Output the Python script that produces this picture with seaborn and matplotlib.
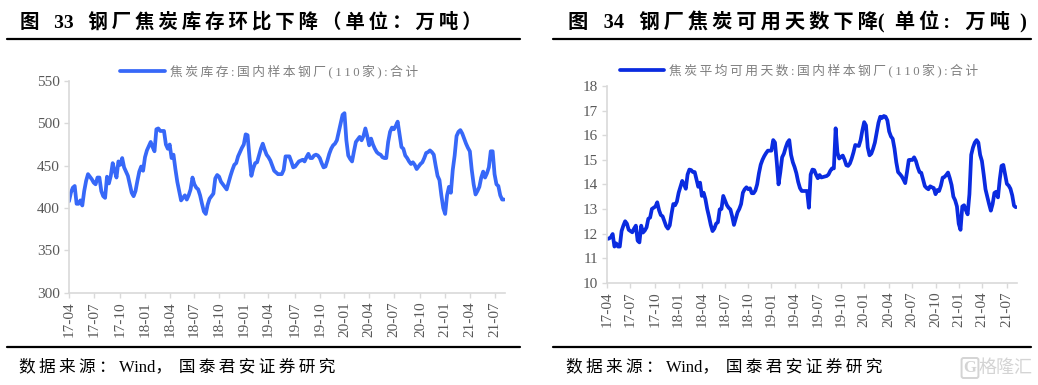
import numpy as np
import pandas as pd
import seaborn as sns
import matplotlib.pyplot as plt
from matplotlib.lines import Line2D

sns.set_theme(style='white')
fonts = ['Liberation Serif', 'Noto Sans CJK SC']
plt.rcParams['font.family'] = fonts

# weekly readings, 2017-04 to 2021-08
stock = [408, 418, 424, 426, 405, 405, 409, 403, 420, 432, 440, 437, 434, 430, 428, 436, 436, 420, 414, 412,
         437, 429, 438, 453, 444, 436, 455, 451, 459, 448, 443, 438, 428, 418, 414, 420, 432, 443, 449, 444,
         460, 468, 473, 478, 472, 467, 493, 494, 491, 491, 491, 475, 470, 475, 459, 463, 446, 431, 420, 409,
         412, 415, 410, 415, 422, 436, 428, 424, 422, 415, 405, 396, 393, 404, 411, 414, 417, 435, 439, 437,
         431, 428, 425, 422, 430, 438, 445, 451, 453, 461, 466, 471, 475, 487, 486, 460, 438, 447, 453, 454,
         462, 470, 476, 469, 463, 460, 456, 450, 444, 442, 440, 440, 440, 445, 461, 461, 461, 455, 448, 449,
         452, 455, 456, 457, 455, 460, 464, 459, 459, 462, 463, 462, 459, 453, 448, 449, 456, 464, 470, 474,
         476, 480, 490, 500, 510, 512, 480, 462, 458, 455, 467, 478, 481, 484, 480, 485, 494, 485, 474, 482,
         475, 470, 466, 464, 463, 460, 459, 459, 478, 490, 495, 493, 497, 502, 487, 472, 470, 462, 459, 455,
         452, 454, 451, 446, 449, 452, 454, 459, 465, 466, 468, 466, 463, 450, 438, 433, 415, 400, 393, 415,
         425, 418, 445, 462, 485, 490, 492, 488, 482, 476, 471, 467, 445, 428, 416, 420, 425, 436, 443, 436,
         441, 448, 467, 467, 440, 428, 426, 415, 410, 410]

days = [11.78, 11.8, 11.85, 11.98, 11.47, 11.6, 11.47, 11.47, 12.1, 12.32, 12.5, 12.4, 12.15, 12.1, 12.05,
        12.2, 12.32, 11.71, 11.64, 12.32, 12.04, 12.12, 12.25, 12.6, 12.65, 13.0, 13.05, 13.1, 13.27, 12.95,
        12.75, 12.7, 12.5, 12.3, 12.2, 12.33, 12.8, 13.2, 13.15, 13.3, 13.66, 13.9, 14.14, 14.0, 13.82,
        14.4, 14.6, 14.58, 14.5, 14.5, 14.2, 13.9, 14.07, 13.53, 13.66, 13.4, 13.0, 12.69, 12.35, 12.1,
        12.2, 12.4, 12.46, 12.98, 13.0, 13.53, 13.35, 13.16, 13.05, 12.98, 12.7, 12.35, 12.6, 12.86, 13.0,
        13.2, 13.66, 13.8, 13.88, 13.8, 13.84, 13.64, 13.64, 13.75, 14.0, 14.45, 14.8, 15.0, 15.15, 15.27,
        15.37, 15.37, 15.37, 15.8, 15.7, 14.9, 14.0, 14.5, 15.1, 15.25, 15.5, 15.7, 15.8, 15.2, 14.9,
        14.7, 14.45, 14.1, 13.85, 13.73, 13.73, 13.73, 13.73, 13.05, 14.4, 14.6, 14.58, 14.4, 14.25, 14.38,
        14.28, 14.3, 14.32, 14.34, 14.4, 14.55, 14.65, 14.65, 16.28, 15.3, 15.05, 15.12, 15.17, 15.0, 14.78,
        14.75, 14.85, 15.05, 15.3, 15.6, 15.58, 15.56, 15.8, 16.2, 16.53, 16.4, 15.5, 15.18, 15.25, 15.45,
        15.7, 16.1, 16.5, 16.75, 16.7, 16.78, 16.75, 16.6, 16.15, 15.95, 15.85, 15.45, 14.9, 14.5, 14.42,
        14.33, 14.2, 14.05, 14.5, 14.99, 15.0, 14.99, 15.1, 14.95, 14.7, 14.5, 14.47, 14.2, 13.93, 13.85,
        13.8, 13.92, 13.88, 13.85, 13.6, 13.77, 13.73, 13.95, 14.27, 14.3, 14.38, 14.48, 14.25, 13.97, 13.5,
        13.35, 13.1, 12.4, 12.15, 13.1, 13.15, 12.95, 12.78, 13.6, 15.2, 15.5, 15.7, 15.8, 15.7, 15.2,
        14.95, 14.4, 13.8, 13.5, 13.2, 12.93, 13.2, 13.65, 13.7, 13.47, 14.2, 14.75, 14.79, 14.4, 14.02,
        13.95, 13.82, 13.55, 13.13, 13.07]

tick_labels = ['17-04', '17-07', '17-10', '18-01', '18-04', '18-07', '18-10', '19-01', '19-04',
               '19-07', '19-10', '20-01', '20-04', '20-07', '20-10', '21-01', '21-04', '21-07']
stock_ticks = [0, 13, 27, 40, 53, 66, 79, 92, 105, 119, 132, 145, 158, 171, 185, 198, 211, 224]
days_ticks = [0, 13, 27, 40, 53, 66, 79, 92, 105, 118, 131, 144, 158, 171, 184, 197, 210, 224]

W, H = 1038, 385
THIN = '\u2009'


# matplotlib has no letter spacing, so thin spaces stand in for it
def spaced(s):
    return THIN.join(s)


def px_axes(fig, x0, x1, y0, y1):
    return fig.add_axes([x0 / W, 1 - y1 / H, (x1 - x0) / W, (y1 - y0) / H])


def rule(fig, x0, x1, y):
    fig.add_artist(Line2D([x0 / W, x1 / W], [1 - y / H, 1 - y / H], color='black', lw=1.6))


def draw_panel(ax, values, ticks, color, label, ylim, ystep, leg_x):
    df = pd.DataFrame({'week': range(len(values)), 'value': values})
    sns.lineplot(data=df, x='week', y='value', ax=ax, color=color, lw=2.7, label=label)
    ax.set_xlim(0, 229.5)
    ax.set_ylim(*ylim)
    ax.set_yticks(np.arange(ylim[0], ylim[1] + ystep, ystep))
    ax.set_xticks(ticks)
    ax.set_xticklabels(tick_labels, rotation=90)
    ax.set_xlabel('')
    ax.set_ylabel('')
    sns.despine(ax=ax)
    for s in ['left', 'bottom']:
        ax.spines[s].set_color('#D9D9D9')
        ax.spines[s].set_linewidth(1.2)
    ax.tick_params(axis='both', direction='out', length=3.5, width=1, color='#D9D9D9',
                   labelcolor='#595959', labelsize=11, pad=3, bottom=True, left=True)
    leg = ax.legend(loc='center', bbox_to_anchor=leg_x, frameon=False, fontsize=9.2,
                    handlelength=3.5, handletextpad=0.35, borderpad=0, borderaxespad=0)
    for t in leg.get_texts():
        t.set_color('#7F7F7F')


fig = plt.figure(figsize=(W / 100, H / 100), dpi=100)

ax1 = px_axes(fig, 69, 505, 81, 292.7)
draw_panel(ax1, stock, stock_ticks, '#3768F8', spaced('焦炭库存:国内样本钢厂(110家):合计'),
           (300, 550), 50, (0.459, 1.047))

ax2 = px_axes(fig, 607.3, 1016.7, 86, 282.7)
draw_panel(ax2, days, days_ticks, '#0A2BE0', spaced('焦炭平均可用天数:国内样本钢厂(110家):合计'),
           (10, 18), 1, (0.468, 1.08))

title_kw = dict(fontweight='bold', color='black', va='center', ha='left')
fig.text(20 / W, 1 - 22 / H, '图   33   ' + spaced('钢厂焦炭库存环比下降（单位：万吨）'), fontsize=14, **title_kw)
fig.text(568 / W, 1 - 22 / H,
         '图   34   ' + spaced('钢厂焦炭可用天数下降') + '(  ' + spaced('单位:') + '   ' + spaced('万吨') + '  )',
         fontsize=14.6, **title_kw)

rule(fig, 7, 520, 39)
rule(fig, 553, 1031, 39)
rule(fig, 7, 520, 347)
rule(fig, 553, 1031, 347)

source = spaced('数据来源：') + THIN + 'Wind，' + THIN + THIN + spaced('国泰君安证券研究')
src_kw = dict(fontsize=12, color='black', va='center', ha='left')
fig.text(19 / W, 1 - 367 / H, source, **src_kw)
fig.text(566 / W, 1 - 367 / H, source, **src_kw)

# watermark in the corner
fig.text(1033 / W, 1 - 368 / H, '格隆汇', fontsize=13, color='#D4D4D4', va='center', ha='right')
fig.text(970 / W, 1 - 368 / H, 'G', fontsize=12, color='#D4D4D4', va='center', ha='center', fontweight='bold',
         bbox=dict(boxstyle='round,pad=0.12', fc='none', ec='#D4D4D4', lw=1.4))

fig.savefig('out.png', dpi=100)
